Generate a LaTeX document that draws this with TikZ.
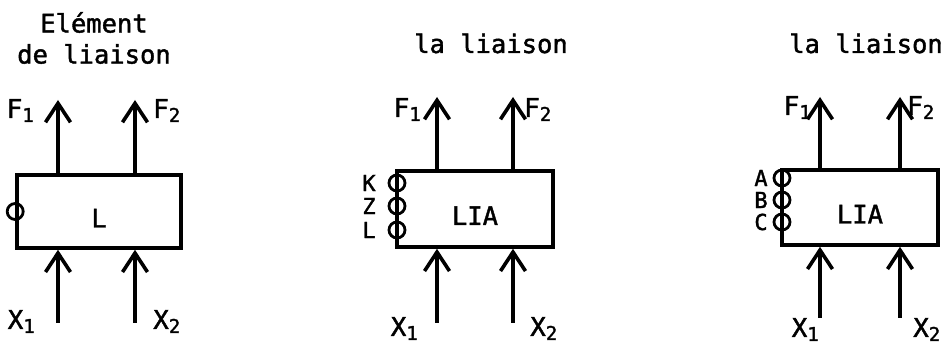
\documentclass[tikz,border=0pt]{standalone}
\usepackage{fontspec}
\setmonofont[FakeBold=1.6]{DejaVu Sans Mono}
\usetikzlibrary{arrows.meta}
\newcommand{\lowidx}[1]{\raisebox{-4pt}{\fontsize{19}{19}\selectfont #1}}

\begin{document}
\begin{tikzpicture}[x=1pt, y=1pt,
    /tikz/font=\ttfamily\fontsize{25.5}{31}\selectfont,
    blockbox/.style={draw, line width=3.6pt, minimum height=75pt, inner sep=0pt, text height=32pt},
    port/.style={draw, circle, line width=2.8pt, minimum size=16pt, inner sep=0pt},
    portlbl/.style={font=\ttfamily\fontsize{22}{22}\selectfont, inner sep=0pt},
    siglbl/.style={font=\ttfamily\fontsize{26}{26}\selectfont, inner sep=0pt},
    flowarr/.style={-{Straight Barb[length=19pt, width=25pt]}, line width=3.6pt},
  ]
  \useasboundingbox (0,0) rectangle (948,347);

  % element with a single port
  \node[align=center] (t1) at (94,309) {Elément\\de liaison};
  \node[blockbox, minimum width=164pt, minimum height=73pt] (b1) at (99,135.5) {L};
  \node[port] (p1) at (b1.west) {};
  \coordinate (f11) at (58,247);
  \coordinate (f12) at (135,247);
  \coordinate (x11) at (58,24);
  \coordinate (x12) at (135,24);
  \draw[flowarr] (b1.north -| f11) -- (f11);
  \draw[flowarr] (b1.north -| f12) -- (f12);
  \draw[flowarr] (x11) -- (x11 |- b1.south);
  \draw[flowarr] (x12) -- (x12 |- b1.south);
  \node[siglbl, anchor=base east] (lf11) at (34,229) {F\lowidx{1}};
  \node[siglbl, anchor=base west] (lf12) at (153,229) {F\lowidx{2}};
  \node[siglbl, anchor=base east] (lx11) at (35,18) {X\lowidx{1}};
  \node[siglbl, anchor=base west] (lx12) at (153,18) {X\lowidx{2}};

  % link with ports K, Z, L
  \node[anchor=base] (t2) at (491,294) {la liaison};
  \node[blockbox, minimum width=156pt, minimum height=76pt] (b2) at (475,138) {LIA};
  \node[port] (p21) at (397,164) {};
  \node[port] (p22) at (397,141) {};
  \node[port] (p23) at (397,117) {};
  \node[portlbl] (k) at (369,164) {K};
  \node[portlbl] (z) at (369,141) {Z};
  \node[portlbl] (l) at (369,117) {L};
  \coordinate (f21) at (437,250);
  \coordinate (f22) at (513,250);
  \coordinate (x21) at (437,24);
  \coordinate (x22) at (513,24);
  \draw[flowarr] (b2.north -| f21) -- (f21);
  \draw[flowarr] (b2.north -| f22) -- (f22);
  \draw[flowarr] (x21) -- (x21 |- b2.south);
  \draw[flowarr] (x22) -- (x22 |- b2.south);
  \node[siglbl, anchor=base east] (lf21) at (421,230) {F\lowidx{1}};
  \node[siglbl, anchor=base west] (lf22) at (524,230) {F\lowidx{2}};
  \node[siglbl, anchor=base east] (lx21) at (418,11) {X\lowidx{1}};
  \node[siglbl, anchor=base west] (lx22) at (530,11) {X\lowidx{2}};

  % link with ports A, B, C
  \node[anchor=base] (t3) at (866,294) {la liaison};
  \node[blockbox, minimum width=156pt, minimum height=75pt] (b3) at (860,139.5) {LIA};
  \node[port] (p31) at (782,169) {};
  \node[port] (p32) at (782,147) {};
  \node[port] (p33) at (782,125) {};
  \node[portlbl] (a) at (761,169) {A};
  \node[portlbl] (b) at (761,147) {B};
  \node[portlbl] (c) at (761,125) {C};
  \coordinate (f31) at (820,250);
  \coordinate (f32) at (900,250);
  \coordinate (x31) at (820,29);
  \coordinate (x32) at (900,29);
  \draw[flowarr] (b3.north -| f31) -- (f31);
  \draw[flowarr] (b3.north -| f32) -- (f32);
  \draw[flowarr] (x31) -- (x31 |- b3.south);
  \draw[flowarr] (x32) -- (x32 |- b3.south);
  \node[siglbl, anchor=base east] (lf31) at (811,232) {F\lowidx{1}};
  \node[siglbl, anchor=base west] (lf32) at (907,232) {F\lowidx{2}};
  \node[siglbl, anchor=base east] (lx31) at (819,10) {X\lowidx{1}};
  \node[siglbl, anchor=base west] (lx32) at (913,10) {X\lowidx{2}};
\end{tikzpicture}
\end{document}
